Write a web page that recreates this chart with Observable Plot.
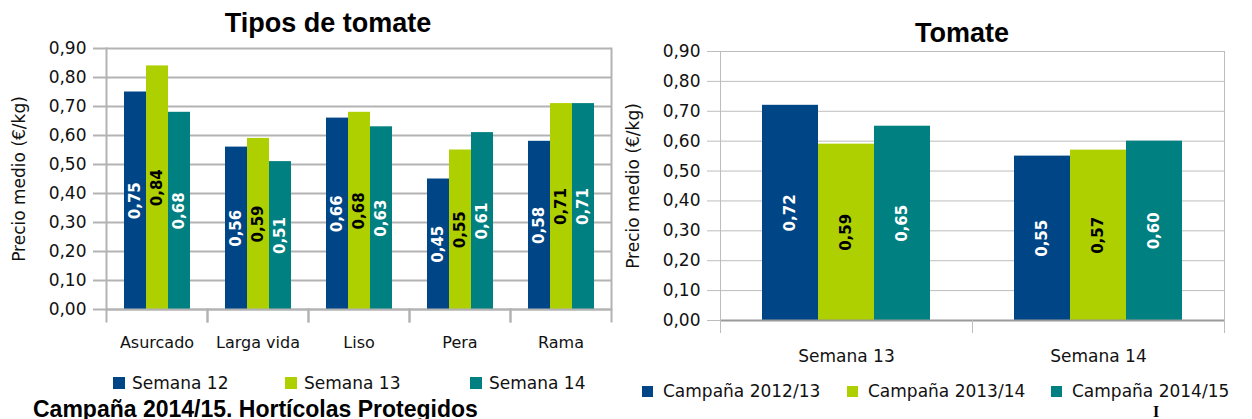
<!DOCTYPE html>
<html><head><meta charset="utf-8">
<script src="https://cdn.jsdelivr.net/npm/d3@7"></script>
<script src="https://cdn.jsdelivr.net/npm/@observablehq/plot@0.6"></script>
<style>
body{margin:0;background:#fff;}
#root{position:relative;width:1252px;height:419px;overflow:hidden;font-family:"DejaVu Sans",sans-serif;color:#111;background:#fff;}
.abs{position:absolute;white-space:nowrap;}
.title{font-family:"Liberation Sans",Arial,sans-serif;font-weight:bold;font-size:27px;line-height:27px;color:#000;transform:translateX(-50%);}
.leg{display:flex;align-items:center;font-size:17px;line-height:20px;height:20px;}
.sw{display:inline-block;}
.caption{font-family:"Liberation Sans",Arial,sans-serif;font-weight:bold;font-size:23px;line-height:23px;color:#000;}
</style></head>
<body><div id="root"></div>
<script>
// ---- data: left chart (Tipos de tomate) ----
const tipos = ["Asurcado", "Larga vida", "Liso", "Pera", "Rama"];
const semanas = ["Semana 12", "Semana 13", "Semana 14"];
const semana12 = [0.75, 0.56, 0.66, 0.45, 0.58];
const semana13 = [0.84, 0.59, 0.68, 0.55, 0.71];
const semana14 = [0.68, 0.51, 0.63, 0.61, 0.71];
// ---- data: right chart (Tomate) ----
const semanasTomate = ["Semana 13", "Semana 14"];
const campanas = ["Campaña 2012/13", "Campaña 2013/14", "Campaña 2014/15"];
const campana1213 = [0.72, 0.55];
const campana1314 = [0.59, 0.57];
const campana1415 = [0.65, 0.60];
// ---- axis ----
const yTicks = [0, 0.1, 0.2, 0.3, 0.4, 0.5, 0.6, 0.7, 0.8, 0.9];
const yLabel = "Precio medio (€/kg)";
const colors = ["#004586", "#aecf00", "#008080"];

const fmt = d3.formatLocale({decimal: ",", thousands: ".", grouping: [3], currency: ["", "€"]}).format(".2f");

function rowsOf(cats, series, values) {
  return cats.flatMap((c, i) => series.map((s, k) => ({cat: c, series: s, value: values[k][i]})));
}

function makeChart(o) {
  const rows = rowsOf(o.cats, o.series, o.values);
  const innerH = o.height - o.marginTop - o.marginBottom;
  return Plot.plot({
    width: o.width, height: o.height,
    marginLeft: o.marginLeft, marginRight: o.marginRight,
    marginTop: o.marginTop, marginBottom: o.marginBottom,
    style: {fontFamily: "DejaVu Sans, sans-serif", fontSize: "17px", color: "#111", background: "transparent", overflow: "visible"},
    fx: {domain: o.cats, padding: 0, axis: null, label: null},
    x: {domain: o.series, axis: null, paddingInner: 0, paddingOuter: 0.73},
    y: {domain: [0, 0.9], axis: null},
    color: {domain: o.series, range: colors},
    marks: [
      Plot.gridY(yTicks, {stroke: o.grid, strokeOpacity: 1, strokeWidth: o.gw}),
      Plot.axisY(yTicks, {
        tickSize: 13, tickPadding: 7, tickFormat: fmt,
        stroke: o.grid, strokeWidth: o.gw, fill: "#111",
        label: yLabel, labelAnchor: "center", labelOffset: 94, labelArrow: "none"
      }),
      Plot.barY(rows, {fx: "cat", x: "series", y: "value", fill: "series"}),
      Plot.text(rows, {filter: d => d.series !== o.series[1], fx: "cat", x: "series", y: d => d.value / 2,
        text: d => fmt(d.value), rotate: -90, fill: "white", fontWeight: "bold", fontSize: 15, fontFamily: "DejaVu Sans"}),
      Plot.text(rows, {filter: d => d.series === o.series[1], fx: "cat", x: "series", y: d => d.value / 2,
        text: d => fmt(d.value), rotate: -90, fill: "black", fontWeight: "bold", fontSize: 15, fontFamily: "DejaVu Sans"}),
      Plot.ruleY([0], {stroke: o.base, strokeWidth: o.bw}),
      Plot.frame({anchor: "left", insetTop: innerH, insetBottom: -12, stroke: o.grid, strokeWidth: o.gw}),
      Plot.frame({anchor: "right", insetTop: innerH, insetBottom: -12, stroke: o.grid, strokeWidth: o.gw}),
      Plot.frame({anchor: "left", facet: "super", stroke: o.grid, strokeWidth: o.gw}),
      Plot.frame({anchor: "right", facet: "super", stroke: o.grid, strokeWidth: o.gw}),
      Plot.axisFx({anchor: "bottom", tickSize: 0, tickPadding: o.xPad, label: null, fontSize: o.xFont, fill: "#111"})
    ]
  });
}

const root = document.getElementById("root");
function place(el, left, top) {
  const d = document.createElement("div");
  d.className = "abs"; d.style.left = left + "px"; d.style.top = top + "px";
  d.appendChild(el); root.appendChild(d); return d;
}
function addText(txt, cls, left, top) {
  const d = document.createElement("div");
  d.className = "abs " + cls; d.textContent = txt;
  d.style.left = left + "px"; d.style.top = top + "px";
  root.appendChild(d); return d;
}
function addLegend(names, xs, cy, size, gap) {
  names.forEach((n, i) => {
    const d = document.createElement("div");
    d.className = "abs leg";
    d.style.left = xs[i] + "px"; d.style.top = (cy - 10) + "px";
    const sw = document.createElement("span");
    sw.className = "sw";
    sw.style.width = size + "px"; sw.style.height = size + "px";
    sw.style.background = colors[i]; sw.style.marginRight = gap + "px";
    const t = document.createElement("span"); t.textContent = n;
    d.appendChild(sw); d.appendChild(t); root.appendChild(d);
  });
}

// Left chart
place(makeChart({
  cats: tipos, series: semanas, values: [semana12, semana13, semana14],
  width: 625, height: 360, marginLeft: 106, marginRight: 14, marginTop: 48, marginBottom: 51,
  grid: "#b3b3b3", gw: 2, base: "#b3b3b3", bw: 2, xPad: 27, xFont: 16
}), 0, 0);

// Right chart
place(makeChart({
  cats: semanasTomate, series: campanas, values: [campana1213, campana1314, campana1415],
  width: 652, height: 370, marginLeft: 120, marginRight: 28, marginTop: 51, marginBottom: 50,
  grid: "#bdbdbd", gw: 1, base: "#9a9a9a", bw: 2, xPad: 29, xFont: 17
}), 600, 0);

addText("Tipos de tomate", "title", 328, 10);
addText("Tomate", "title", 962, 20);
addLegend(semanas, [113, 285, 470], 383, 12, 7);
addLegend(campanas, [642, 847, 1051], 391, 11, 10);
addText("Campaña 2014/15. Hortícolas Protegidos", "caption", 33, 398);
const mark = addText("I", "", 1153, 403);
mark.style.fontFamily = "Liberation Serif, serif"; mark.style.fontWeight = "bold"; mark.style.fontSize = "16px"; mark.style.color = "#000";
</script>
</body></html>
